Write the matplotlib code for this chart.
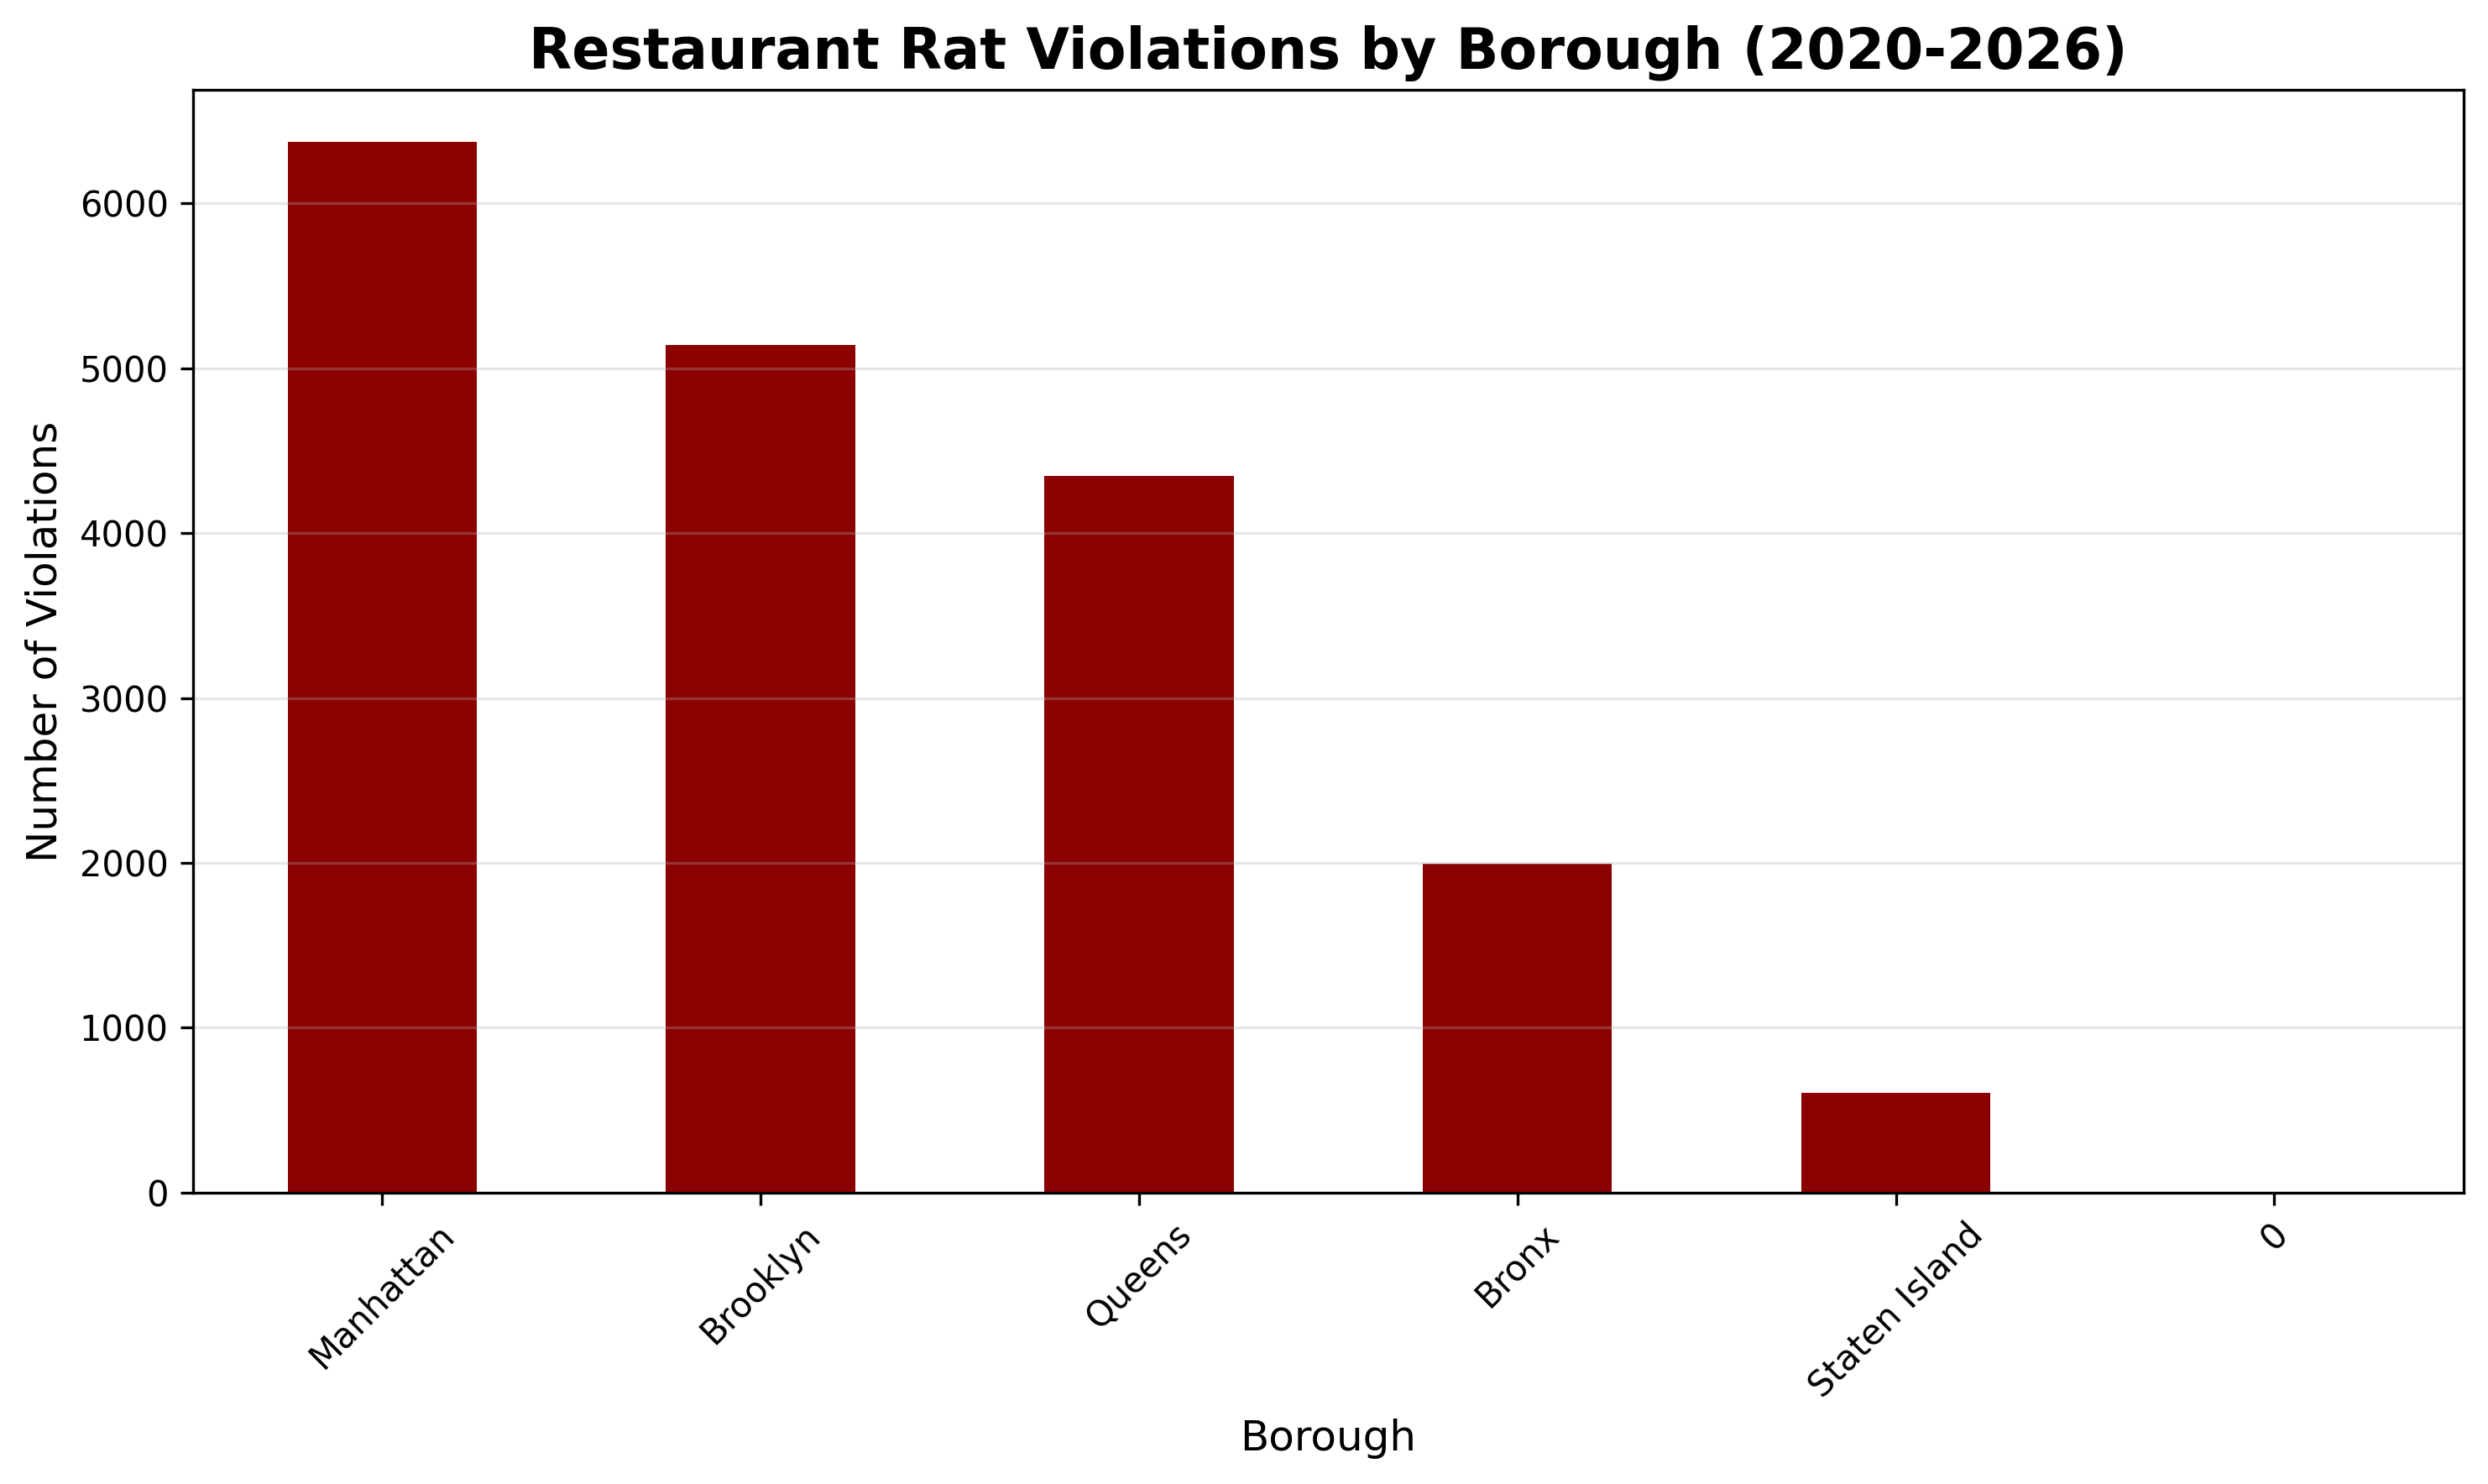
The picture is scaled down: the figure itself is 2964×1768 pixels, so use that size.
import matplotlib
matplotlib.use('Agg')
import matplotlib.pyplot as plt

boroughs = ['Manhattan', 'Brooklyn', 'Queens', 'Bronx', 'Staten Island', '0']
violations = [6371, 5139, 4346, 1995, 606, 1]

fig, ax = plt.subplots(figsize=(10, 6))
x = range(len(boroughs))
ax.bar(x, violations, width=0.5, color='darkred')
ax.set_xlim(-0.5, len(boroughs) - 0.5)
ax.set_xticks(list(x))
ax.set_xticklabels(boroughs, rotation=45)
ax.set_title('Restaurant Rat Violations by Borough (2020-2026)', fontsize=16, fontweight='bold')
ax.set_xlabel('Borough', fontsize=12)
ax.set_ylabel('Number of Violations', fontsize=12)
ax.grid(axis='y', alpha=0.3)

plt.tight_layout()
plt.savefig('out.png', dpi=300, bbox_inches='tight')
